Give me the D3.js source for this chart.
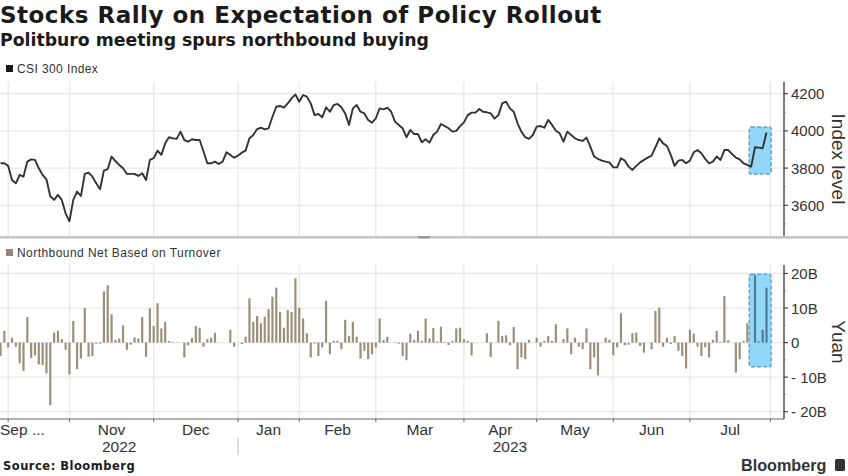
<!DOCTYPE html>
<html>
<head>
<meta charset="utf-8">
<script src="https://cdnjs.cloudflare.com/ajax/libs/d3/7.8.5/d3.min.js"></script>
<style>
  html, body { margin: 0; padding: 0; background: #fff; }
  text { font-family: "Liberation Sans", sans-serif; fill: #333; }
  .head { font-family: "DejaVu Sans", sans-serif; font-weight: bold; fill: #1a1a1a; }
</style>
</head>
<body>
<svg id="chart" width="848" height="476"></svg>
<script>
'use strict';

// CSI 300 close, one per session
var indexLevels = [
  3826,3826,3812,3736,3718,3763,3754,3835,3847,3844,3799,3763,3740,3647,3629,3656,3629,3557,3514,3629,
  3674,3650,3769,3776,3754,3718,3686,3787,3795,3862,3838,3817,3799,3769,3769,3769,3758,3772,3736,3844,
  3853,3894,3871,3933,3966,3960,3957,3996,3951,3942,3955,3951,3951,3889,3826,3826,3835,3822,3835,3885,
  3871,3856,3867,3883,3894,3960,3978,4010,4017,4008,4014,4076,4130,4134,4125,4148,4175,4196,4157,
  4193,4184,4148,4085,4091,4073,4127,4103,4139,4145,4127,4094,4032,4121,4139,4103,4094,4059,4044,4068,
  4121,4116,4125,4103,4050,4032,4014,3966,4005,3983,3983,3939,3955,3937,3978,3996,4037,4026,4014,3996,
  4000,4026,4046,4085,4098,4098,4118,4103,4100,4094,4066,4085,4148,4157,4121,4103,4041,3996,3966,3957,
  3978,4023,4026,4017,4059,4032,4001,3987,
  3942,3996,3978,3960,3951,3946,3964,3915,3862,3849,3840,3835,3831,3804,3804,3853,3840,3808,3790,3812,
  3831,3844,3856,3867,3912,3960,3933,3919,3871,3812,3840,3844,3826,3840,3885,3897,3880,3849,3826,3835,
  3862,3844,3897,3897,3876,3856,3847,3826,3817,3808,3912,3910,3906,3991
];

// northbound net buying, billion yuan (null = market shut)
var northbound = [
  -3.9,3.4,-1.4,1.4,-1.2,-6,-8.2,7.4,-4.5,-3.7,-6.3,-6.5,-8.9,-18.1,2.9,3.4,1,-2.1,-9.2,6.3,
  -7.7,-4.6,10,-4.1,-3.9,-.3,-.3,14.8,16.6,8.2,.8,1.2,5,-2.1,-.6,1.5,1.2,7.4,-4.1,9.9,
  4.8,11.4,4.1,6,.5,.2,.1,0,-4.3,-.8,1.4,4.8,4.3,-1.2,1,1.4,2.9,null,null,null,
  3.7,-1.2,null,-.4,1.7,12.8,6,7.7,5.6,7.5,9.7,13.3,15.9,8.9,4.3,9.4,8.9,18.6,10.1,
  7,2.7,-4.3,-.3,-3.9,-1.4,12.1,-3.4,.5,.5,-1.9,6.6,1.9,6,1.7,-4.6,-2.4,-4.8,-3.4,-1.4,
  7,.8,1.7,0,-.1,-.3,-3.9,-5.1,2.6,.8,3.4,.5,7,1.2,4.2,.3,4.6,.2,-.7,.5,
  4.1,4.3,1,.5,-3.7,null,null,null,2.7,-4.2,null,6.3,1.9,2.1,-.8,4.5,-7.7,-4.3,-4.8,.8,
  null,1.4,-1.2,.5,1.9,.5,5.3,
  0,1,4.1,-3.4,1.4,-1.2,-1.9,4.1,-7.7,-4.3,-9.5,0,1.4,.8,-3.7,-1.4,8.5,-.8,-.6,2.7,
  2.9,-1,-2.9,0,-1.9,9.2,10.1,-1.2,1.4,-.4,1.9,-2.4,-3.9,-7.5,3.7,2.6,-1.2,-3.9,-1.4,-4.3,
  .8,3.4,.2,13.5,.7,0,-8.7,-4.8,.5,5.6,0,19.5,.3,3.7,15.9
];

// session index where each month starts
var monthStarts = [2,18,40,62,78,98,121,140,160,180,201];
var monthNames = ['Sep ...','Nov','Dec','Jan','Feb','Mar','Apr','May','Jun','Jul'];
var levelTicks = [3600,3800,4000,4200];
var levelMinor = [3500,3700,3900,4100];
var yuanTicks = [-20,-10,0,10,20];
var yuanMinor = [-15,-5,5,15];
var highlightSessions = [195.5,201.2];
var highlightLevels = [3768,4021];
var highlightYuan = [-7,19.8];

var svg = d3.select('#chart');
var gridCol = '#e8e8e8', axisCol = '#444';

var x = d3.scaleLinear().domain([0,200]).range([0.5,766.5]);
var yTop = d3.scaleLinear().domain([3600,4200]).range([205.3,93.7]);
var yBot = d3.scaleLinear().domain([-20,20]).range([411.7,273.5]);

var axisX = 784;
var topPanel = [82,236], botPanel = [265,419];

// gridlines, both panels
function grid(yScale, ticks, panel){
  svg.append('g').selectAll('line').data(ticks).join('line')
    .attr('x1',0).attr('x2',axisX)
    .attr('y1',function(d){return yScale(d);}).attr('y2',function(d){return yScale(d);})
    .attr('stroke',gridCol).attr('stroke-width',1.3);
  svg.append('g').selectAll('line').data(monthStarts).join('line')
    .attr('x1',function(d){return x(d);}).attr('x2',function(d){return x(d);})
    .attr('y1',panel[0]).attr('y2',panel[1])
    .attr('stroke',gridCol).attr('stroke-width',1.3);
}
grid(yTop, levelTicks, topPanel);
grid(yBot, yuanTicks, botPanel);

// panel divider
svg.append('rect').attr('x',0).attr('y',236).attr('width',848).attr('height',2.5).attr('fill','#c4c4c4');
svg.append('rect').attr('x',418).attr('y',236).attr('width',12).attr('height',2.5).attr('fill','#999');

// highlight boxes sit under the marks
function highlight(y0, y1){
  svg.append('rect')
    .attr('x',x(highlightSessions[0])).attr('width',x(highlightSessions[1])-x(highlightSessions[0]))
    .attr('y',y1).attr('height',y0-y1).attr('rx',2)
    .attr('fill','#92d6f8').attr('stroke','#5ba5ca').attr('stroke-width',1.5)
    .attr('stroke-dasharray','4 2');
}
highlight(yTop(highlightLevels[0]), yTop(highlightLevels[1]));
highlight(yBot(highlightYuan[0]), yBot(highlightYuan[1]));

// index line
var line = d3.line().x(function(d,i){return x(i);}).y(function(d){return yTop(d);});
svg.append('path').datum(indexLevels).attr('d',line)
  .attr('fill','none').attr('stroke','#333').attr('stroke-width',1.9).attr('stroke-linejoin','round');

// northbound bars, skipping closed days
var barData = northbound.map(function(v,i){return {i:i,v:v};}).filter(function(d){return d.v !== null;});
svg.append('g').selectAll('rect').data(barData).join('rect')
  .attr('x',function(d){return x(d.i)-1.1;})
  .attr('width',2.2)
  .attr('y',function(d){return Math.min(yBot(d.v),yBot(0));})
  .attr('height',function(d){return Math.abs(yBot(d.v)-yBot(0));})
  .attr('fill',function(d){return d.i >= highlightSessions[0] ? '#4f7f97' : '#9c907a';});

// right axes
function rightAxis(yScale, ticks, minor, panel, fmt){
  var g = svg.append('g').attr('transform','translate('+axisX+',0)');
  g.append('line').attr('y1',panel[0]).attr('y2',panel[1]).attr('stroke',axisCol).attr('stroke-width',1.4);
  g.selectAll('line.maj').data(ticks).join('line').attr('class','maj')
    .attr('x2',4).attr('y1',function(d){return yScale(d);}).attr('y2',function(d){return yScale(d);})
    .attr('stroke',axisCol).attr('stroke-width',1.2);
  g.selectAll('line.min').data(minor).join('line').attr('class','min')
    .attr('x2',2).attr('y1',function(d){return yScale(d);}).attr('y2',function(d){return yScale(d);})
    .attr('stroke','#888').attr('stroke-width',1);
  g.selectAll('text').data(ticks).join('text')
    .attr('x',7).attr('y',function(d){return yScale(d)+5.5;})
    .attr('font-size',15).text(fmt);
}
rightAxis(yTop, levelTicks, levelMinor, topPanel, function(d){return d;});
rightAxis(yBot, yuanTicks, yuanMinor, botPanel, function(d){return d === 0 ? '0' : (d < 0 ? '- ' + (-d) : d) + 'B';});

function sideTitle(label, cy){
  svg.append('text').attr('transform','translate(832,'+cy+') rotate(90)')
    .attr('text-anchor','middle').attr('font-size',19).text(label);
}
sideTitle('Index level',159);
sideTitle('Yuan',342);

// bottom x axis
svg.append('line').attr('x1',0).attr('x2',axisX).attr('y1',419).attr('y2',419).attr('stroke','#666').attr('stroke-width',1.2);
svg.append('g').selectAll('line').data(monthStarts).join('line')
  .attr('x1',function(d){return x(d);}).attr('x2',function(d){return x(d);})
  .attr('y1',419).attr('y2',422).attr('stroke','#666');
svg.append('g').selectAll('text').data(monthNames).join('text')
  .attr('x',function(d,i){return i === 0 ? 0 : x((monthStarts[i]+monthStarts[i+1])/2);})
  .attr('y',435).attr('font-size',15.5)
  .attr('text-anchor',function(d,i){return i === 0 ? 'start' : 'middle';})
  .text(function(d){return d;});
svg.append('text').attr('x',x(31)).attr('y',452).attr('font-size',15.5).attr('text-anchor','middle').text('2022');
svg.append('text').attr('x',x(133)).attr('y',452).attr('font-size',15.5).attr('text-anchor','middle').text('2023');
svg.append('line').attr('x1',x(62)).attr('x2',x(62)).attr('y1',438).attr('y2',455).attr('stroke','#bbb');

// legends
svg.append('rect').attr('x',6).attr('y',65).attr('width',7).attr('height',7).attr('fill','#1a1a1a');
svg.append('text').attr('x',17).attr('y',73).attr('font-size',12).attr('letter-spacing',0.4).text('CSI 300 Index');
svg.append('rect').attr('x',6).attr('y',249).attr('width',7).attr('height',7).attr('fill','#94876f');
svg.append('text').attr('x',17).attr('y',257).attr('font-size',12).attr('letter-spacing',0.45).text('Northbound Net Based on Turnover');

// heading and footer
svg.append('text').attr('class','head').attr('x',0).attr('y',23).attr('font-size',23).attr('letter-spacing',0.5).text('Stocks Rally on Expectation of Policy Rollout');
svg.append('text').attr('class','head').attr('x',0).attr('y',46).attr('font-size',17.3).text('Politburo meeting spurs northbound buying');
svg.append('text').attr('class','head').attr('x',3).attr('y',470).attr('font-size',11.5).attr('letter-spacing',0.5).text('Source: Bloomberg');
svg.append('text').attr('x',741).attr('y',471).attr('font-size',16.2).attr('font-weight','bold').text('Bloomberg');
svg.append('rect').attr('x',835).attr('y',459).attr('width',10).attr('height',12).attr('rx',1.5).attr('fill','#333');
</script>
</body>
</html>
